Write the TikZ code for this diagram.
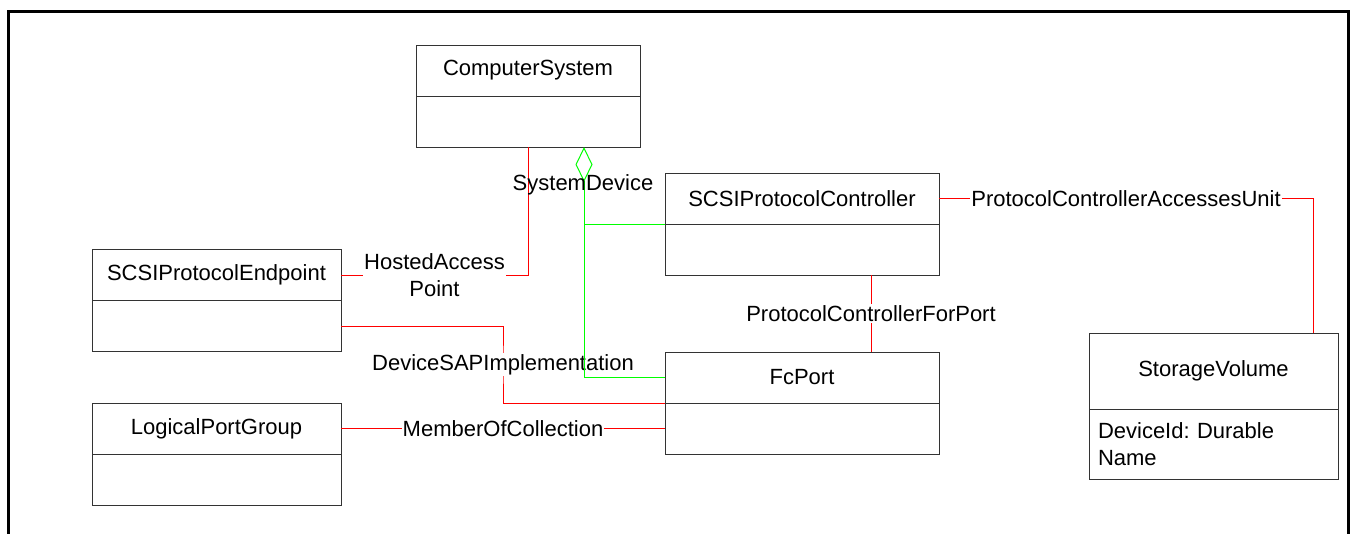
\documentclass[tikz,border=0pt]{standalone}
\usepackage{fontspec}
\setmainfont{Liberation Sans}
\usetikzlibrary{positioning,arrows.meta}
\frenchspacing

\begin{document}
\begin{tikzpicture}[x=1pt,y=-1pt,font=\fontsize{22}{27}\selectfont,
cls/.style={draw=black!80,line width=1pt,minimum height=51pt,inner sep=0pt,outer sep=0pt},
clsbody/.style={cls},
assoc/.style={red,line width=1pt},
aggr/.style={green,line width=1pt},
lbl/.style={fill=white,text=black,inner sep=1pt,align=center}]
\useasboundingbox(0,0)rectangle(1354,533);
\draw[line width=3pt](8.5,540)--(8.5,11)--(1348.5,11)--(1348.5,540);
\node[cls,minimum width=224pt](cs)at(528,70.5){ComputerSystem};
\node[clsbody,minimum width=224pt,below=0pt of cs](csb){};
\node[cls,minimum width=274pt](spc)at(802,198.5){SCSIProtocolController};
\node[clsbody,minimum width=274pt,below=0pt of spc](spcb){};
\node[cls,minimum width=249pt](spe)at(216.5,275){SCSIProtocolEndpoint};
\node[clsbody,minimum width=249pt,below=0pt of spe](speb){};
\node[cls,minimum width=274pt](fc)at(802,377.5){FcPort};
\node[clsbody,minimum width=274pt,below=0pt of fc](fcb){};
\node[cls,minimum width=249pt](lpg)at(216.5,428.5){LogicalPortGroup};
\node[clsbody,minimum width=249pt,below=0pt of lpg](lpgb){};
\node[cls,minimum width=249pt,minimum height=76pt](sv)at(1213.5,371){StorageVolume};
\node[clsbody,minimum width=249pt,minimum height=70pt,text width=231pt,align=left,below=0pt of sv](svb){DeviceId: Durable\\Name};
\coordinate(dsap)at(503,364.5);
\draw[assoc](csb.south)|-(spe.east)node[lbl,pos=0.75]{HostedAccess\\Point};
\draw[assoc](speb.east)-|(dsap)|-(fc.south west);
\node[lbl](dsapl)at(dsap){DeviceSAPImplementation};
\draw[assoc](lpg.east)--(fcb.west)node[lbl,midway]{MemberOfCollection};
\draw[assoc]([xshift=69pt]spcb.south)--([xshift=69pt]fc.north)node[lbl,midway]{ProtocolControllerForPort};
\draw[assoc](spc.east)-|([xshift=-25pt]sv.north east)node[lbl,pos=0.25]{ProtocolControllerAccessesUnit};
\coordinate(sdj)at([xshift=56pt]csb.south|-spc.south west);
\draw[aggr,{Diamond[open,length=35pt,width=17pt]}-]([xshift=56pt]csb.south)|-(fc.west);
\draw[aggr](sdj)--(spc.south west);
\node(sdl)at(583,185){SystemDevice};
\end{tikzpicture}
\end{document}
